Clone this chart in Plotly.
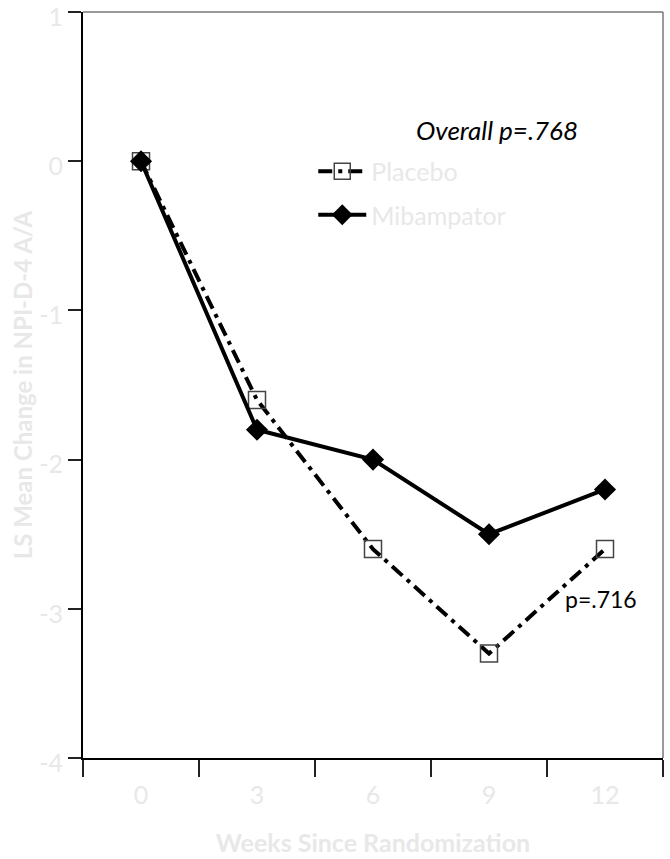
import plotly.graph_objects as go

weeks = ["0", "3", "6", "9", "12"]
placebo = [0, -1.6, -2.6, -3.3, -2.6]
mibampator = [0, -1.8, -2.0, -2.5, -2.2]
y_ticks = [1, 0, -1, -2, -3, -4]

FONT = "Lato"
LIGHT = "#e8e8e8"

fig = go.Figure()
fig.add_trace(go.Scatter(
    x=weeks, y=placebo, name="Placebo", mode="lines+markers",
    line=dict(color="black", width=4, dash="14px,6px,4px,6px"),
    marker=dict(symbol="square-open", size=17, color="#444444", line=dict(width=1.5)),
    legendgroup="a",
))
fig.add_trace(go.Scatter(
    x=weeks, y=mibampator, name="Mibampator", mode="lines+markers",
    line=dict(color="black", width=4),
    marker=dict(symbol="diamond", size=17, color="black"),
    legendgroup="b",
))

fig.update_layout(
    width=670, height=859,
    margin=dict(l=83, r=7, t=12, b=101, autoexpand=False),
    plot_bgcolor="white", paper_bgcolor="white",
    font=dict(family=FONT, size=24, color=LIGHT),
    showlegend=True,
    legend=dict(x=0.397, y=0.817, xanchor="left", yanchor="top",
                font=dict(family=FONT, size=25, color=LIGHT),
                traceorder="grouped", tracegroupgap=8,
                bgcolor="rgba(0,0,0,0)", itemwidth=48),
    xaxis=dict(
        type="category", categoryorder="array", categoryarray=weeks,
        range=[-0.5, 4.5], tickson="boundaries", automargin=False,
        ticks="outside", ticklen=17, tickwidth=1.5, tickcolor="#222222",
        ticklabelstandoff=14,
        showline=True, linecolor="black", linewidth=2,
        showgrid=False, zeroline=False,
        tickfont=dict(family=FONT, size=25, color=LIGHT),
        title=dict(text="<b>Weeks Since Randomization</b>", standoff=26,
                   font=dict(family=FONT, size=25, color=LIGHT)),
    ),
    yaxis=dict(
        range=[-4, 1], tickvals=y_ticks, ticktext=[str(v) for v in y_ticks],
        ticks="outside", ticklen=13, tickwidth=1.5, tickcolor="#222222",
        ticklabeloverflow="allow", automargin=False, ticklabelshift=5,
        showline=True, linecolor="black", linewidth=2,
        showgrid=False, zeroline=False,
        tickfont=dict(family=FONT, size=25, color=LIGHT),
        title=dict(text="<b>LS Mean Change in NPI-D-4 A/A</b>", standoff=0,
                   font=dict(family=FONT, size=24, color=LIGHT)),
    ),
    shapes=[
        dict(type="line", xref="paper", yref="paper", x0=0, x1=1, y0=1, y1=1,
             line=dict(color="#777777", width=1.5)),
        dict(type="line", xref="paper", yref="paper", x0=1, x1=1, y0=0, y1=1,
             line=dict(color="#777777", width=1.5)),
    ],
    annotations=[
        dict(text="<i>Overall p=.768</i>", xref="paper", yref="paper",
             x=0.714, y=0.842, xanchor="center", yanchor="middle", showarrow=False,
             font=dict(family=FONT, size=26, color="black")),
        dict(text="p=.716", xref="paper", yref="paper",
             x=0.893, y=0.213, xanchor="center", yanchor="middle", showarrow=False,
             font=dict(family=FONT, size=23, color="black")),
    ],
)

fig.write_html("out.html", config={"displayModeBar": False},
               post_script="document.body.style.margin='0px';")
